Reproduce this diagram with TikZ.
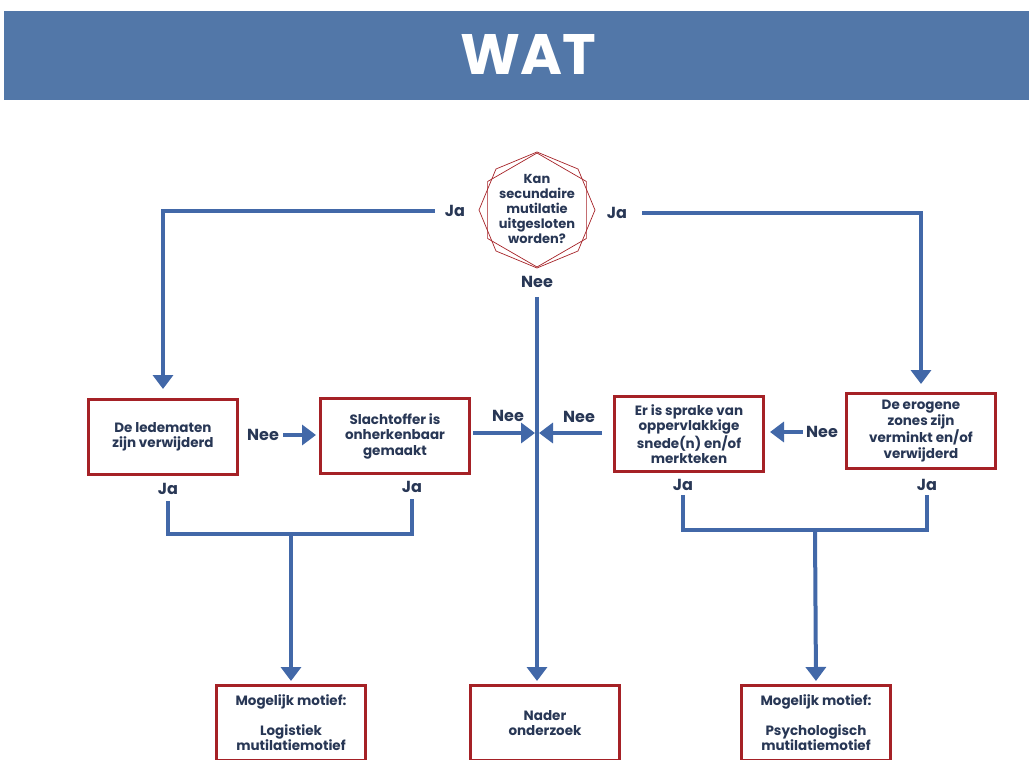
\documentclass[tikz,border=0pt]{standalone}
\usepackage{fontspec}
\setmainfont{Poppins}
\usetikzlibrary{arrows.meta,shapes.geometric}

\definecolor{watblue}{RGB}{82,119,168}
\definecolor{flowblue}{RGB}{66,104,168}
\definecolor{boxred}{RGB}{165,33,38}
\definecolor{navy}{RGB}{40,55,85}

\tikzset{
    box/.style={draw=boxred, line width=3pt, fill=white, minimum width=149pt, minimum height=75pt, inner sep=2pt, align=center, text=navy, font=\bfseries\fontsize{13.5}{15.5}\selectfont},
    answer/.style={text=navy, inner sep=1pt, font=\bfseries\fontsize{16}{17}\selectfont},
    flow/.style={draw=flowblue, line width=4pt},
    flowarrow/.style={flow, -{Triangle[width=20pt,length=14pt]}},
}

\begin{document}
\begin{tikzpicture}[x=1pt,y=-1pt]
    \useasboundingbox (0,0) rectangle (1029,760);
    \clip (0,0) rectangle (1029,760);

    \fill[watblue] (4,11) rectangle (1029,100);
    \node[text=white, font=\bfseries\fontsize{57}{57}\selectfont] (title) at (528,54) {WAT};

    \node[text=navy, align=center, font=\bfseries\fontsize{13}{15}\selectfont] (ask) at (537,209) {Kan\\secundaire\\mutilatie\\uitgesloten\\worden?};
    \node[draw=boxred, line width=0.7pt, regular polygon, regular polygon sides=8, rotate=22.5, minimum size=116pt] (askoct) at (537,210) {};
    \node[draw=boxred, line width=0.7pt, regular polygon, regular polygon sides=6, rotate=30, minimum size=114pt] (askhex) at (537,210) {};

    \node[answer] (jaLeft) at (455,211) {Ja};
    \node[answer] (jaRight) at (617,213) {Ja};
    \node[answer] (neeAsk) at (537,282) {Nee};

    \node[box] (limbs) at (163,437) {De ledematen\\zijn verwijderd};
    \node[box] (unrecog) at (395,436) {Slachtoffer is\\onherkenbaar\\gemaakt};
    \node[box] (cuts) at (689,434) {Er is sprake van\\oppervlakkige\\snede(n) en/of\\merkteken};
    \node[box] (erogen) at (921,431) {De erogene\\zones zijn\\verminkt en/of\\verwijderd};

    \node[answer] (neeLimbs) at (263,435) {Nee};
    \node[answer] (neeUnrecog) at (508,416) {Nee};
    \node[answer] (neeCuts) at (579,417) {Nee};
    \node[answer] (neeErogen) at (822,432) {Nee};

    \node[answer] (jaLimbs) at (168,489) {Ja};
    \node[answer] (jaUnrecog) at (412,487) {Ja};
    \node[answer] (jaCuts) at (683,485) {Ja};
    \node[answer] (jaErogen) at (927,485) {Ja};

    \node[box] (logist) at (291,723) {Mogelijk motief:\\[14pt]Logistiek\\mutilatiemotief};
    \node[box] (onderzoek) at (545,723) {Nader\\onderzoek};
    \node[box] (psych) at (816,723) {Mogelijk motief:\\[14pt]Psychologisch\\mutilatiemotief};

    \coordinate (hub) at (537,433);
    \coordinate (joinL) at (291,534);
    \coordinate (joinR) at (815,530);

    \draw[flowarrow, shorten <=9pt, shorten >=9pt] (jaLeft.west) -| (limbs.north);
    \draw[flowarrow, shorten <=14pt, shorten >=8pt] (jaRight.east) -| (erogen.north);
    \draw[flowarrow, shorten <=8pt, shorten >=3pt] (neeAsk.south) -- (neeAsk.south |- onderzoek.north);

    \draw[flowarrow, shorten <=3pt, shorten >=3pt] (neeLimbs.east) -- (neeLimbs.east -| unrecog.west);
    \draw[flowarrow, shorten <=2pt, shorten >=2pt] (unrecog.east |- hub) -- (hub);
    \draw[flowarrow, shorten <=11pt, shorten >=2pt] (cuts.west |- hub) -- (hub);
    \draw[flowarrow, shorten <=2pt, shorten >=5pt] (neeErogen.west) -- (neeErogen.west -| cuts.east);

    \draw[flow, shorten <=5pt, shorten >=5pt] (jaLimbs.south) |- (joinL) -| (jaUnrecog.south);
    \draw[flow, shorten <=3pt, shorten >=3pt] (jaCuts.south) |- (joinR) -| (jaErogen.south);
    \draw[flowarrow, shorten >=3pt] (joinL) -- (logist.north);
    \draw[flowarrow, shorten >=3pt] (joinR) -- (psych.north);
\end{tikzpicture}
\end{document}
